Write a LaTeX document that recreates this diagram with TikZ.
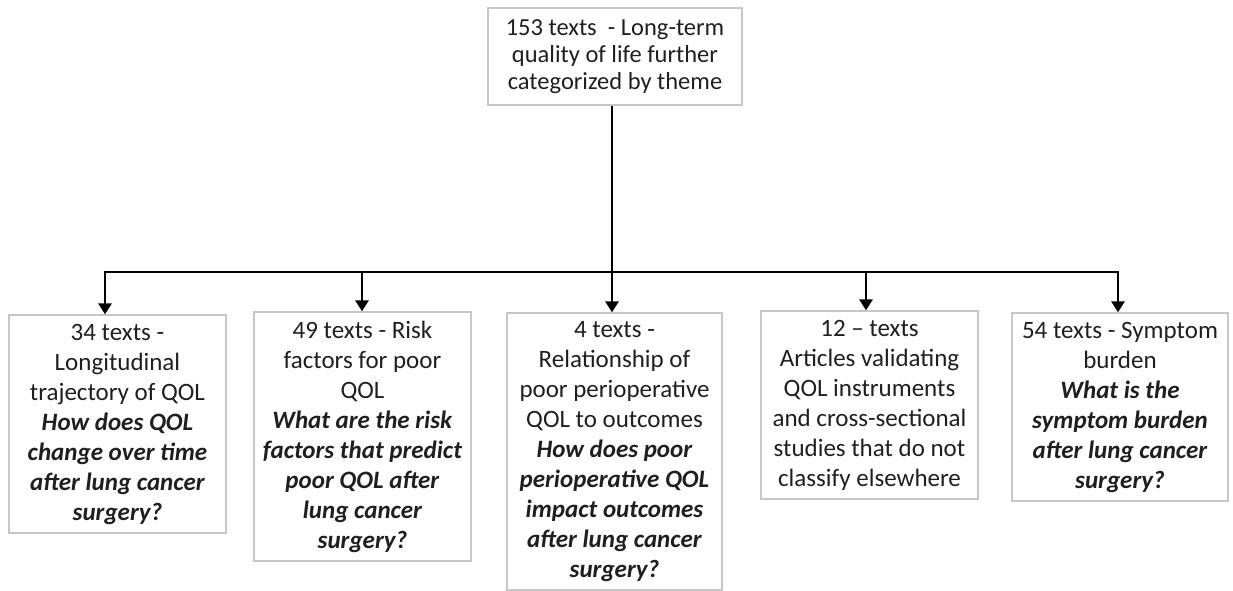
\documentclass[tikz,border=0pt]{standalone}
\usepackage{fontspec}
\setmainfont{Carlito}
\usetikzlibrary{arrows.meta}
\begin{document}
\begin{tikzpicture}[x=1pt,y=-1pt,
  box/.style={draw=black!22, line width=1.3pt, align=center, inner sep=0pt,
    font=\fontsize{25}{30}\selectfont, text=black!88},
  conn/.style={line width=2.8pt, black},
  arr/.style={conn, -{Triangle[length=11pt,width=13pt]}}]
\useasboundingbox (0,0) rectangle (1233,591);
\node[box, minimum width=254pt, minimum height=97pt, font=\fontsize{24.5}{27}\selectfont] (top) at (615,56.5)
  {153 texts\ \ - Long-term\\quality of life further\\categorized by theme};
\node[box, minimum width=217pt, minimum height=218pt] (b1) at (117.5,424)
  {34 texts -\\Longitudinal\\trajectory of QOL\\\textbf{\textit{How does QOL}}\\\textbf{\textit{change over time}}\\\textbf{\textit{after lung cancer}}\\\textbf{\textit{surgery?}}};
\node[box, minimum width=217pt, minimum height=249pt] (b2) at (362.5,436.5)
  {49 texts - Risk\\factors for poor\\QOL\\\textbf{\textit{What are the risk}}\\\textbf{\textit{factors that predict}}\\\textbf{\textit{poor QOL after}}\\\textbf{\textit{lung cancer}}\\\textbf{\textit{surgery?}}};
\node[box, minimum width=215pt, minimum height=277pt] (b3) at (614.5,451.5)
  {4 texts -\\Relationship of\\poor perioperative\\QOL to outcomes\\\textbf{\textit{How does poor}}\\\textbf{\textit{perioperative QOL}}\\\textbf{\textit{impact outcomes}}\\\textbf{\textit{after lung cancer}}\\\textbf{\textit{surgery?}}};
\node[box, minimum width=217pt, minimum height=188pt] (b4) at (869.5,405)
  {12 -- texts\\Articles validating\\QOL instruments\\and cross-sectional\\studies that do not\\classify elsewhere};
\node[box, minimum width=216pt, minimum height=188pt] (b5) at (1120,407)
  {54 texts - Symptom\\burden\\\textbf{\textit{What is the}}\\\textbf{\textit{symptom burden}}\\\textbf{\textit{after lung cancer}}\\\textbf{\textit{surgery?}}};
\coordinate (j1) at (105,272);
\coordinate (j2) at (362,272);
\coordinate (j3) at (612,272);
\coordinate (j4) at (866,272);
\coordinate (j5) at (1118,272);
\draw[conn] (top.south -| j3) -- (j3);
\draw[conn, line cap=rect] (j1) -- (j5);
\draw[arr] (j1) -- (j1 |- b1.north);
\draw[arr] (j2) -- (j2 |- b2.north);
\draw[arr] (j3) -- (j3 |- b3.north);
\draw[arr] (j4) -- (j4 |- b4.north);
\draw[arr] (j5) -- (j5 |- b5.north);
\end{tikzpicture}
\end{document}
